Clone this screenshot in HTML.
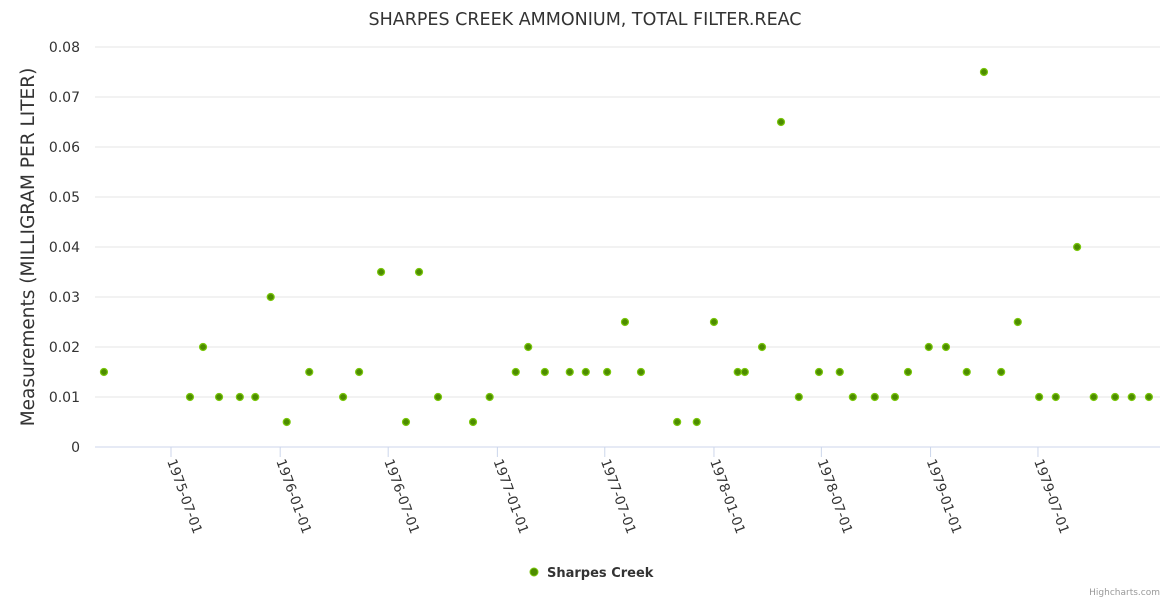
<!DOCTYPE html>
<html><head><meta charset="utf-8"><style>
body{margin:0;background:#fff;font-family:"Liberation Sans","DejaVu Sans",sans-serif;}
svg text{font-family:"DejaVu Sans","Liberation Sans",sans-serif;}
</style></head><body>
<svg id="chart" width="1170" height="600" xmlns="http://www.w3.org/2000/svg">
<text x="585" y="25" text-anchor="middle" font-size="17.5" fill="#333">SHARPES CREEK AMMONIUM, TOTAL FILTER.REAC</text>
<text transform="translate(34,247) rotate(-90)" text-anchor="middle" font-size="18.5" fill="#333">Measurements (MILLIGRAM PER LITER)</text>
<g id="grid"></g><g id="yticks"></g><g id="xticks"></g><g id="points"></g>
<g>
<circle cx="534" cy="572" r="4" fill="#4d8c00" stroke="#7ac70c" stroke-width="1"/>
<text x="547" y="577" font-size="13" font-weight="bold" fill="#333">Sharpes Creek</text>
</g>
<text x="1160" y="595" text-anchor="end" font-size="9" fill="#999">Highcharts.com</text>
</svg>
<script>
const dates=["1975-03-10","1975-08-02","1975-08-24","1975-09-20","1975-10-25","1975-11-20","1975-12-16","1976-01-12","1976-02-19","1976-04-16","1976-05-13","1976-06-19","1976-07-31","1976-08-22","1976-09-23","1976-11-21","1976-12-19","1977-02-01","1977-02-22","1977-03-22","1977-05-03","1977-05-30","1977-07-05","1977-08-04","1977-08-31","1977-10-31","1977-12-03","1978-01-01","1978-02-10","1978-02-22","1978-03-23","1978-04-24","1978-05-24","1978-06-27","1978-08-01","1978-08-23","1978-09-29","1978-11-02","1978-11-24","1978-12-29","1979-01-27","1979-03-03","1979-04-01","1979-04-30","1979-05-28","1979-07-03","1979-07-31","1979-09-05","1979-10-03","1979-11-08","1979-12-06","1980-01-04"];
const values=[0.015,0.01,0.02,0.01,0.01,0.01,0.03,0.005,0.015,0.01,0.015,0.035,0.005,0.035,0.01,0.005,0.01,0.015,0.02,0.015,0.015,0.015,0.015,0.025,0.015,0.005,0.005,0.025,0.015,0.015,0.02,0.065,0.01,0.015,0.015,0.01,0.01,0.01,0.015,0.02,0.02,0.015,0.075,0.015,0.025,0.01,0.01,0.04,0.01,0.01,0.01,0.01];
const yTicks=[0,0.01,0.02,0.03,0.04,0.05,0.06,0.07,0.08];
const yTickLabels=["0","0.01","0.02","0.03","0.04","0.05","0.06","0.07","0.08"];
const xTicks=["1975-07-01","1976-01-01","1976-07-01","1977-01-01","1977-07-01","1978-01-01","1978-07-01","1979-01-01","1979-07-01"];
const NS="http://www.w3.org/2000/svg";
const DAY=86400000, T0=Date.parse("1975-07-01");
function xs(d){return 171+(Date.parse(d)-T0)/DAY*0.5934;}
function ys(v){return 447-v/0.08*400;}
function mk(tag,attrs,parent){const e=document.createElementNS(NS,tag);for(const k in attrs)e.setAttribute(k,attrs[k]);parent.appendChild(e);return e;}
const grid=document.getElementById('grid'),yt=document.getElementById('yticks'),xt=document.getElementById('xticks'),pts=document.getElementById('points');
yTicks.forEach((v,i)=>{
  const l=mk('line',{x1:95,x2:1160,y1:ys(v),y2:ys(v),stroke:i==0?'#ccd6eb':'#e6e6e6','stroke-width':1},grid);
  
  
  const t=mk('text',{x:80,y:ys(v)+5,'text-anchor':'end','font-size':14,fill:'#333'},yt);
  t.textContent=yTickLabels[i];
  
  
});
xTicks.forEach(d=>{
  const x=xs(d);
  const l=mk('line',{x1:x,x2:x,y1:447,y2:457,stroke:'#ccd6eb'},xt);
  
  
  const t=mk('text',{x:0,y:0,'font-size':13.5,fill:'#333',transform:`translate(${x-4},${461}) rotate(70)`},xt);
  t.textContent=d;
  
  
});
dates.forEach((d,i)=>{
  const c=mk('circle',{cx:xs(d),cy:ys(values[i]),r:3.5,fill:'#4d8c00',stroke:'#7ac70c','stroke-width':1.2},pts);
  
  
});
</script>
</body></html>
